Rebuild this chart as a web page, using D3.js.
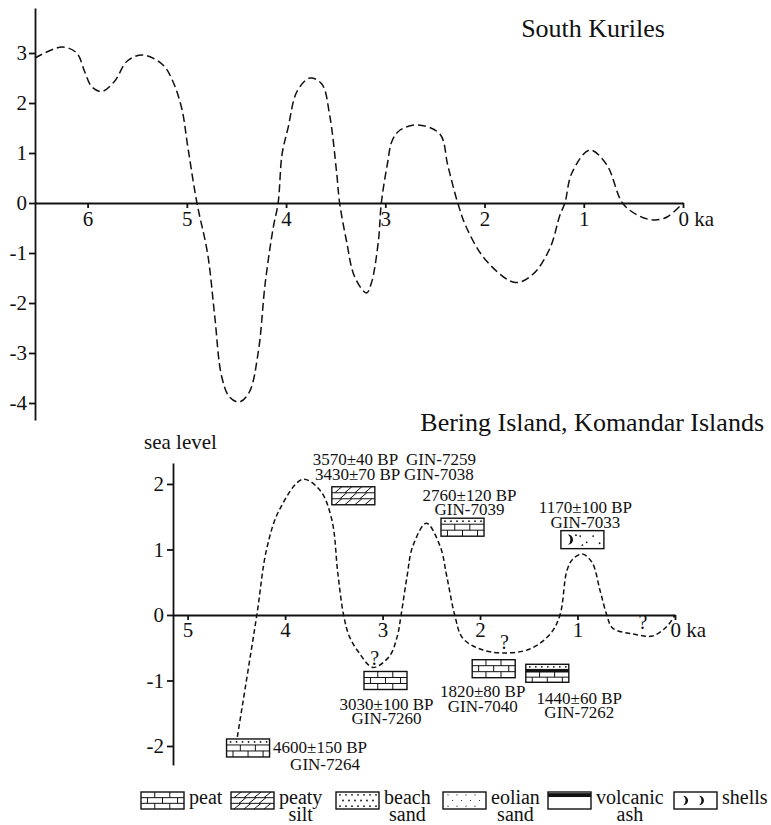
<!DOCTYPE html>
<html>
<head>
<meta charset="utf-8">
<script src="https://cdn.jsdelivr.net/npm/d3@7/dist/d3.min.js"></script>
<style>
body { margin: 0; background: #fff; }
text { font-family: "Liberation Serif", "Times New Roman", serif; fill: #111; }
.tick text { font-size: 21px; }
.title { font-size: 26px; }
.lab { font-size: 17px; white-space: pre; }
.leg { font-size: 20px; }
</style>
</head>
<body>
<div id="container"></div>
<script>

// South Kuriles curve (age ka, sea level m)
var kurilesKa = [6.53, 6.26, 6.11, 6.03, 5.96, 5.86, 5.73, 5.60, 5.44, 5.24,
    5.14, 5.05, 4.99, 4.90, 4.79, 4.72, 4.65, 4.57, 4.47, 4.37,
    4.28, 4.21, 4.13, 4.08, 4.04, 3.98, 3.89, 3.76, 3.64, 3.56,
    3.49, 3.46, 3.39, 3.31, 3.19, 3.14, 3.07, 3.04, 2.98, 2.93,
    2.85, 2.67, 2.45, 2.37, 2.27, 2.18, 1.98, 1.69, 1.51, 1.34,
    1.24, 1.19, 1.12, 0.94, 0.77, 0.61, 0.46, 0.30, 0.16, 0];
var kurilesLevel = [2.9, 3.12, 3.0, 2.63, 2.33, 2.23, 2.43, 2.84, 2.96, 2.76,
    2.43, 1.88, 1.12, 0.02, -1.02, -2.24, -3.46, -3.88, -3.98, -3.78,
    -2.98, -1.6, -0.5, 0, 0.98, 1.5, 2.23, 2.5, 2.38, 1.75,
    0.6, 0, -0.77, -1.47, -1.8, -1.6, -0.77, 0, 0.77, 1.25,
    1.46, 1.56, 1.38, 0.75, 0, -0.5, -1.16, -1.59, -1.42, -0.9,
    -0.24, 0, 0.6, 1.06, 0.77, 0, -0.24, -0.34, -0.28, 0];

// Bering Island curve
var beringKa = [4.49, 4.29, 4.19, 4.06, 3.82, 3.64, 3.52, 3.46, 3.40, 3.34,
    3.24, 3.10, 2.93, 2.85, 2.81, 2.75, 2.69, 2.55, 2.41, 2.34,
    2.26, 2.18, 2.00, 1.77, 1.49, 1.28, 1.18, 1.11, 1.05, 0.95,
    0.85, 0.77, 0.70, 0.64, 0.43, 0.23, 0.08, 0];
var beringLevel = [-1.86, 0, 1.0, 1.6, 2.07, 1.9, 1.45, 0.65, 0, -0.33,
    -0.58, -0.8, -0.63, -0.33, 0, 0.58, 1.05, 1.4, 1.05, 0.58,
    0, -0.35, -0.52, -0.58, -0.52, -0.29, 0, 0.67, 0.85, 0.93,
    0.8, 0.38, 0, -0.2, -0.29, -0.32, -0.17, 0];

// dated samples
var sampleKa = [3.30, 2.18, 0.95, 2.97, 1.86, 1.31, 4.38];
var sampleLevel = [1.82, 1.34, 1.15, -1.0, -0.82, -0.89, -2.03];
var sampleLayers = [["silt"], ["sand", "peat"], ["shells"], ["peat"], ["peat"], ["sand", "ash", "peat"], ["sand", "peat"]];
var sampleText = [
    ["3570\u00b140 BP  GIN-7259", "3430\u00b170 BP GIN-7038"],
    ["2760\u00b1120 BP", "GIN-7039"],
    ["1170\u00b1100 BP", "GIN-7033"],
    ["3030\u00b1100 BP", "GIN-7260"],
    ["1820\u00b180 BP", "GIN-7040"],
    ["1440\u00b160 BP", "GIN-7262"],
    ["4600\u00b1150 BP", "GIN-7264"]
];

// question marks on the Bering curve
var queryKa = [3.08, 1.75, 0.33];
var queryLevel = [-0.66, -0.41, -0.11];

// ticks
var topKaTicks = [6, 5, 4, 3, 2, 1, 0];
var topLevelTicks = [3, 2, 1, 0, -1, -2, -3, -4];
var botKaTicks = [5, 4, 3, 2, 1, 0];
var botLevelTicks = [2, 1, 0, -1, -2];

// legend
var legendTypes = [["peat"], ["silt"], ["sand"], ["eolian"], ["gap", "ash", "rest"], ["shells"]];
var legendNames = [["peat"], ["peaty", "silt"], ["beach", "sand"], ["eolian", "sand"], ["volcanic", "ash"], ["shells"]];

// layout
var width = 771, height = 825,
    boxW = 43, boxH = 18;
// label offsets from box centre: [dx line1, dx line2, dy line1, dy line2]
var labelPlace = [[41, 41, -36, -21], [7, 7, -32, -18], [3, 3, -32, -17], [1, 1, 24, 38],
    [-11, -11, 23, 38], [32, 32, 25, 39], [72, 77, 0, 17]];
var legendX = [141, 231, 336, 443, 548, 674];
var layerWeight = { peat: 1, silt: 1, shells: 1, sand: 0.5, ash: 0.25, eolian: 1, gap: 0.15, rest: 1.1 };

var svg = d3.select("#container")
    .append("svg")
    .attr("width", width)
    .attr("height", height);

var ink = "#111";

function kaFormat(d) { return d === 0 ? "0 ka" : String(d); }
function levelFormat(d) { return String(d); }

function zeroLabel(axisG) {
    axisG.selectAll(".tick text")
        .filter(function (d) { return d === 0; })
        .attr("text-anchor", "start")
        .attr("x", -5);
}

// ---- top chart: South Kuriles
var xTop = d3.scaleLinear().domain([6.53, 0]).range([35, 683]);
var yTop = d3.scaleLinear().domain([-4.34, 3.9]).range([420, 8]);

var topChart = svg.append("g");

var topX = topChart.append("g")
    .attr("class", "axis")
    .attr("transform", "translate(0," + yTop(0) + ")")
    .call(d3.axisBottom(xTop).tickValues(topKaTicks).tickSize(5).tickSizeOuter(0).tickPadding(3)
        .tickFormat(kaFormat));
zeroLabel(topX);

topChart.append("g")
    .attr("class", "axis")
    .attr("transform", "translate(" + xTop.range()[0] + ",0)")
    .call(d3.axisLeft(yTop).tickValues(topLevelTicks).tickSize(6).tickSizeOuter(0).tickPadding(2)
        .tickFormat(levelFormat));

topChart.append("path")
    .datum(d3.zip(kurilesKa, kurilesLevel))
    .attr("fill", "none")
    .attr("stroke", ink)
    .attr("stroke-width", 1.5)
    .attr("stroke-dasharray", "8,4")
    .attr("d", d3.line()
        .x(function (d) { return xTop(d[0]); })
        .y(function (d) { return yTop(d[1]); })
        .curve(d3.curveCatmullRom.alpha(0.5)));

topChart.append("text")
    .attr("class", "title")
    .attr("x", 593).attr("y", 28)
    .attr("text-anchor", "middle")
    .attr("dominant-baseline", "central")
    .text("South Kuriles");

// ---- bottom chart: Bering Island
var xBot = d3.scaleLinear().domain([5.15, 0]).range([173, 675]);
var yBot = d3.scaleLinear().domain([-2.29, 2.32]).range([765, 463]);

var bot = svg.append("g");

var botX = bot.append("g")
    .attr("class", "axis")
    .attr("transform", "translate(0," + yBot(0) + ")")
    .call(d3.axisBottom(xBot).tickValues(botKaTicks).tickSize(5).tickSizeOuter(0).tickPadding(2)
        .tickFormat(kaFormat));
zeroLabel(botX);

bot.append("g")
    .attr("class", "axis")
    .attr("transform", "translate(" + xBot.range()[0] + ",0)")
    .call(d3.axisLeft(yBot).tickValues(botLevelTicks).tickSize(6).tickSizeOuter(0).tickPadding(3)
        .tickFormat(levelFormat));

bot.append("path")
    .datum(d3.zip(beringKa, beringLevel))
    .attr("fill", "none")
    .attr("stroke", ink)
    .attr("stroke-width", 1.5)
    .attr("stroke-dasharray", "5,3")
    .attr("d", d3.line()
        .x(function (d) { return xBot(d[0]); })
        .y(function (d) { return yBot(d[1]); })
        .curve(d3.curveCatmullRom.alpha(0.5)));

bot.selectAll(".query")
    .data(d3.zip(queryKa, queryLevel))
    .enter()
    .append("text")
    .attr("class", "query")
    .attr("x", function (d) { return xBot(d[0]); })
    .attr("y", function (d) { return yBot(d[1]); })
    .attr("text-anchor", "middle")
    .attr("dominant-baseline", "central")
    .style("font-size", "20px")
    .text("?");

bot.append("text")
    .attr("class", "title")
    .attr("x", 764).attr("y", 422)
    .attr("text-anchor", "end")
    .attr("dominant-baseline", "central")
    .text("Bering Island, Komandar Islands");

bot.append("text")
    .attr("x", 144).attr("y", 442)
    .attr("dominant-baseline", "central")
    .style("font-size", "21px")
    .text("sea level");

// axis styling
svg.selectAll(".axis").attr("font-family", null).attr("font-size", null);
svg.selectAll(".axis path, .axis line").attr("stroke", ink).attr("stroke-width", 1.8);

// ---- lithology boxes
function seg(g, x1, y1, x2, y2, sw) {
    g.append("line").attr("x1", x1).attr("y1", y1).attr("x2", x2).attr("y2", y2)
        .attr("stroke", ink).attr("stroke-width", sw || 1);
}

function dot(g, cx, cy, r) {
    g.append("circle").attr("cx", cx).attr("cy", cy).attr("r", r).attr("fill", ink);
}

function crescent(g, cx, cy, s) {
    g.append("path")
        .attr("d", "M" + (cx - s * 0.3) + "," + (cy - s) +
            " A" + s + "," + s + " 0 0 1 " + (cx - s * 0.3) + "," + (cy + s) +
            " A" + (s * 1.3) + "," + (s * 1.3) + " 0 0 0 " + (cx - s * 0.3) + "," + (cy - s) + "Z")
        .attr("fill", ink);
}

function drawLayer(g, type, w, y0, h, legendMode) {
    var r, c, rows, rh;
    if (type === "peat") {
        rows = Math.max(1, Math.round(h / 6));
        rh = h / rows;
        for (r = 1; r < rows; r++) seg(g, 0, y0 + r * rh, w, y0 + r * rh);
        for (r = 0; r < rows; r++) {
            var xs = r % 2 ? [0.15, 0.5, 0.85] : [0.32, 0.67];
            xs.forEach(function (f) { seg(g, w * f, y0 + r * rh, w * f, y0 + (r + 1) * rh); });
        }
    } else if (type === "silt") {
        rows = 3; rh = h / rows;
        for (r = 1; r < rows; r++) seg(g, 0, y0 + r * rh, w, y0 + r * rh);
        for (r = 0; r < rows; r++) {
            for (c = 0; c < 4; c++) {
                var sx = 3 + c * 10 + (r % 2) * 5;
                if (sx + 7 < w) seg(g, sx, y0 + (r + 1) * rh, sx + 7, y0 + r * rh);
            }
        }
    } else if (type === "sand") {
        rows = Math.max(1, Math.round(h / 6));
        rh = h / rows;
        for (r = 0; r < rows; r++) {
            for (c = 0; c < 7; c++) {
                var dx = 4 + c * 6 + (r % 2) * 3;
                if (dx < w - 2) dot(g, dx, y0 + (r + 0.5) * rh, 0.9);
            }
        }
    } else if (type === "eolian") {
        rows = 3; rh = h / rows;
        for (r = 0; r < rows; r++) {
            for (c = 0; c < 5; c++) {
                var ex = 5 + c * 9 + (r % 2) * 4.5;
                if (ex < w - 2) dot(g, ex, y0 + (r + 0.5) * rh, 0.6);
            }
        }
    } else if (type === "ash") {
        g.append("rect").attr("x", 0).attr("y", y0).attr("width", w).attr("height", h).attr("fill", ink);
    } else if (type === "shells") {
        if (legendMode) {
            crescent(g, w * 0.25, y0 + h / 2, h * 0.28);
            crescent(g, w * 0.62, y0 + h / 2, h * 0.28);
        } else {
            crescent(g, w * 0.2, y0 + h / 2, h * 0.28);
            [[0.45, 0.3], [0.6, 0.65], [0.75, 0.3], [0.9, 0.7], [0.5, 0.8], [0.35, 0.25]].forEach(function (p) {
                dot(g, w * p[0], y0 + h * p[1], 0.9);
            });
        }
    }
}

function drawBox(g, layers, w, h, legendMode) {
    var total = d3.sum(layers, function (t) { return layerWeight[t]; });
    var y0 = 0;
    g.append("rect").attr("width", w).attr("height", h).attr("fill", "#fff");
    layers.forEach(function (t, i) {
        var lh = h * layerWeight[t] / total;
        drawLayer(g, t, w, y0, lh, legendMode);
        if (i > 0) seg(g, 0, y0, w, y0);
        y0 += lh;
    });
    g.append("rect").attr("width", w).attr("height", h)
        .attr("fill", "none").attr("stroke", ink).attr("stroke-width", 1.4);
}

var samples = bot.selectAll(".sample")
    .data(d3.range(sampleKa.length))
    .enter()
    .append("g")
    .attr("class", "sample")
    .attr("transform", function (i) { return "translate(" + xBot(sampleKa[i]) + "," + yBot(sampleLevel[i]) + ")"; });

samples.each(function (i) {
    var g = d3.select(this);
    drawBox(g.append("g").attr("transform", "translate(" + (-boxW / 2) + "," + (-boxH / 2) + ")"),
        sampleLayers[i], boxW, boxH, false);
    sampleText[i].forEach(function (line, k) {
        g.append("text")
            .attr("class", "lab")
            .attr("x", labelPlace[i][k])
            .attr("y", labelPlace[i][2 + k])
            .attr("text-anchor", "middle")
            .attr("dominant-baseline", "central")
            .text(line);
    });
});

// ---- legend
var legend = svg.append("g").attr("transform", "translate(0,792)");
legendTypes.forEach(function (t, i) {
    var lx = legendX[i];
    drawBox(legend.append("g").attr("transform", "translate(" + lx + ",0)"), t, boxW, 17, true);
    var t1 = legend.append("text")
        .attr("class", "leg")
        .attr("x", lx + boxW + 5).attr("y", 5)
        .attr("dominant-baseline", "central")
        .text(legendNames[i][0]);
    var tw = t1.node().getComputedTextLength();
    if (legendNames[i][1]) {
        legend.append("text")
            .attr("class", "leg")
            .attr("x", lx + boxW + 5 + tw / 2).attr("y", 22)
            .attr("text-anchor", "middle")
            .attr("dominant-baseline", "central")
            .text(legendNames[i][1]);
    }
});

</script>
</body>
</html>
